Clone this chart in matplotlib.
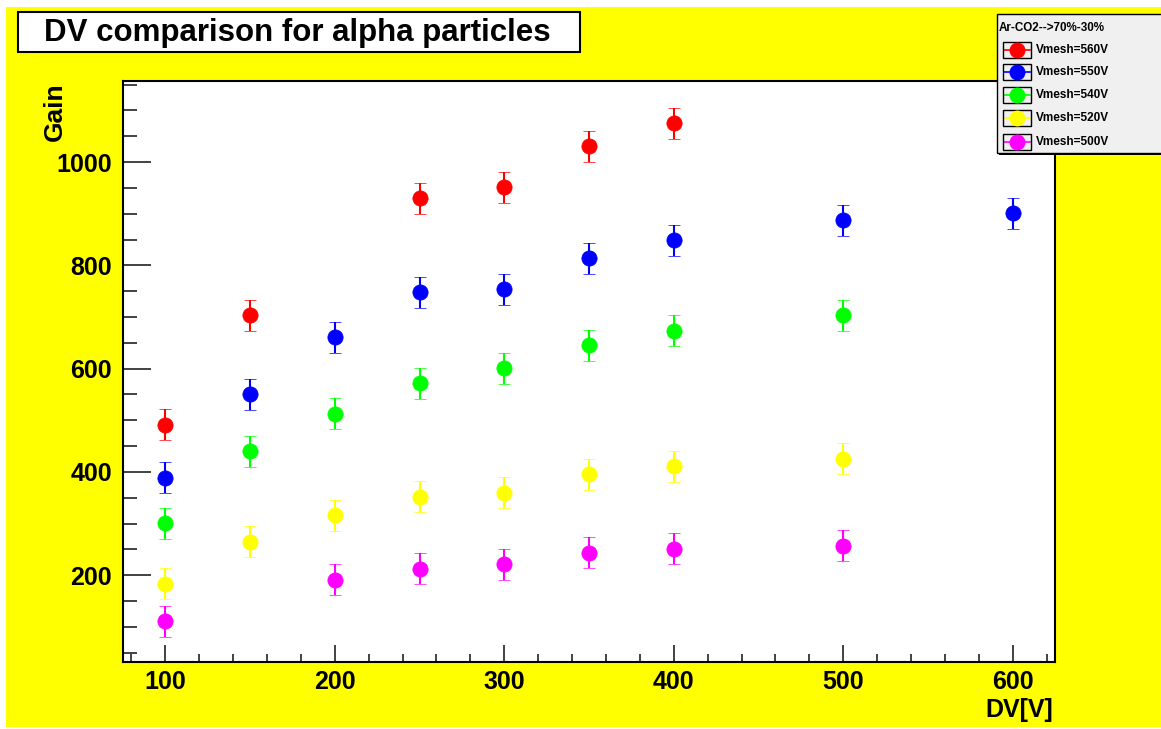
import matplotlib.pyplot as plt
from matplotlib.patches import Rectangle
from matplotlib.lines import Line2D
from matplotlib.ticker import MultipleLocator

plt.rcParams['font.family'] = ['Liberation Sans', 'DejaVu Sans']
plt.rcParams['font.weight'] = 'bold'

W, H = 1161, 729

# drift voltage scan, gain for each mesh voltage
dv_560 = [100, 150, 250, 300, 350, 400]
gain_560 = [491, 703, 930, 951, 1031, 1075]

dv_550 = [100, 150, 200, 250, 300, 350, 400, 500, 600]
gain_550 = [389, 550, 661, 748, 754, 814, 849, 887, 901]

dv_540 = [100, 150, 200, 250, 300, 350, 400, 500]
gain_540 = [301, 440, 513, 572, 601, 645, 673, 703]

dv_520 = [100, 150, 200, 250, 300, 350, 400, 500]
gain_520 = [184, 265, 316, 352, 360, 396, 411, 426]

dv_500 = [100, 200, 250, 300, 350, 400, 500]
gain_500 = [111, 191, 213, 221, 244, 251, 257]

gain_err = 30

series = [
    (dv_560, gain_560, '#ff0000', 'Vmesh=560V'),
    (dv_550, gain_550, '#0000ff', 'Vmesh=550V'),
    (dv_540, gain_540, '#00ff00', 'Vmesh=540V'),
    (dv_520, gain_520, '#ffff00', 'Vmesh=520V'),
    (dv_500, gain_500, '#ff00ff', 'Vmesh=500V'),
]


def fx(px):
    return px / W


def fy(py):
    return 1 - py / H


fig = plt.figure(figsize=(W / 100, H / 100), dpi=100, facecolor='white')
# yellow canvas
fig.patches.append(Rectangle((fx(6), fy(727)), fx(1161 - 6), (727 - 7) / H,
                             transform=fig.transFigure, facecolor='#ffff00',
                             edgecolor='none', zorder=-10))

ax = fig.add_axes([fx(123), fy(662), fx(1055 - 123), (662 - 81) / H])
ax.set_facecolor('white')

for x, y, c, lbl in series:
    ax.errorbar(x, y, yerr=gain_err, fmt='o', color=c, ms=11, mec=c, mew=0.5,
                elinewidth=1.5, capsize=4, capthick=1.5, label=lbl, zorder=3)

ax.set_xlim(75, 625)
ax.set_ylim(32, 1157)
ax.xaxis.set_major_locator(MultipleLocator(100))
ax.xaxis.set_minor_locator(MultipleLocator(20))
ax.yaxis.set_major_locator(MultipleLocator(200))
ax.yaxis.set_minor_locator(MultipleLocator(50))

ax.tick_params(which='both', direction='in', top=False, right=False,
               width=1.2, colors='#222222', labelcolor='black', labelsize=18)
ax.tick_params(axis='y', which='major', length=20, pad=8)
ax.tick_params(axis='y', which='minor', length=10)
ax.tick_params(axis='x', which='major', length=12, pad=6)
ax.tick_params(axis='x', which='minor', length=6)
for lab in ax.get_xticklabels() + ax.get_yticklabels():
    lab.set_fontweight('bold')
for sp in ax.spines.values():
    sp.set_linewidth(1.5)
    sp.set_color('black')

fig.text(fx(55), fy(82), 'Gain', rotation=90, ha='center', va='top',
         fontsize=19, fontweight='bold')
fig.text(fx(1053), fy(722), 'DV[V]', ha='right', va='bottom',
         fontsize=18, fontweight='bold')

# title box
fig.patches.append(Rectangle((fx(18), fy(52)), fx(580 - 18), (52 - 12) / H,
                             transform=fig.transFigure, facecolor='white',
                             edgecolor='black', lw=1.5, zorder=1))
fig.text(fx(297), fy(33), 'DV comparison for alpha particles', ha='center',
         va='center', fontsize=22.5, fontweight='bold', zorder=2)

# legend box with shadow
fig.patches.append(Rectangle((fx(999), fy(155)), fx(170), (155 - 17) / H,
                             transform=fig.transFigure, facecolor='black',
                             edgecolor='none', zorder=4))
fig.patches.append(Rectangle((fx(997), fy(153)), fx(170), (153 - 14) / H,
                             transform=fig.transFigure, facecolor='#f0f0f0',
                             edgecolor='black', lw=1, zorder=5))
fig.text(fx(999), fy(28), 'Ar-CO2-->70%-30%', ha='left', va='center',
         fontsize=8.4, fontweight='bold', zorder=6)
rows = [50, 72, 95, 118, 142]
for (x, y, c, lbl), ry in zip(series, rows):
    fig.patches.append(Rectangle((fx(1003), fy(ry + 8)), fx(28), 16 / H,
                                 transform=fig.transFigure, facecolor='none',
                                 edgecolor='black', lw=1, zorder=6))
    fig.lines.append(Line2D([fx(1004), fx(1030)], [fy(ry), fy(ry)],
                            transform=fig.transFigure, color=c, lw=1.2, zorder=6))
    fig.lines.append(Line2D([fx(1017)], [fy(ry)], transform=fig.transFigure,
                            marker='o', ms=11.5, mew=0, color=c, zorder=7))
    fig.text(fx(1036), fy(ry), lbl, ha='left', va='center', fontsize=8.5,
             fontweight='bold', zorder=7)

fig.savefig('out.png', dpi=100, facecolor='white')
